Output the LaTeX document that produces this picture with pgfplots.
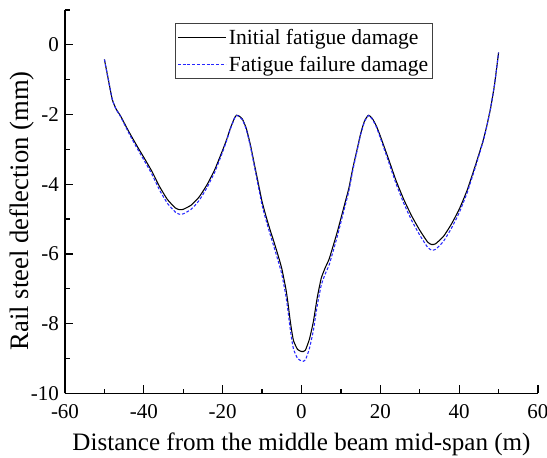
\documentclass[border=0pt]{standalone}
\usepackage{fontspec}
\setmainfont{Liberation Serif}
\usepackage{pgfplots}
\pgfplotsset{compat=1.18}

% x (m), initial fatigue damage (mm), fatigue failure damage (mm)
\pgfplotstableread{
x      init    fail
-50    -0.42   -0.42
-49    -1.00   -1.00
-48    -1.57   -1.57
-47    -1.85   -1.86
-46    -2.02   -2.04
-44    -2.45   -2.49
-42    -2.85   -2.91
-40    -3.23   -3.30
-38    -3.62   -3.70
-36    -4.07   -4.17
-34    -4.44   -4.55
-32    -4.68   -4.80
-31    -4.73   -4.86
-30    -4.72   -4.85
-28    -4.60   -4.72
-26    -4.37   -4.47
-24    -4.02   -4.10
-22    -3.58   -3.65
-20    -3.02   -3.07
-19    -2.72   -2.75
-18    -2.38   -2.40
-17    -2.10   -2.11
-16.5  -2.02   -2.03
-16    -2.03   -2.04
-15    -2.13   -2.15
-14    -2.40   -2.43
-13    -2.85   -2.90
-12    -3.40   -3.46
-11    -3.95   -4.03
-10    -4.50   -4.60
-9     -4.92   -5.03
-8     -5.30   -5.42
-7     -5.65   -5.79
-6     -6.02   -6.17
-5     -6.42   -6.58
-4     -6.98   -7.18
-3.5   -7.35   -7.57
-3     -7.80   -8.03
-2.5   -8.20   -8.44
-2     -8.50   -8.74
-1     -8.74   -9.00
0      -8.80   -9.07
0.5    -8.80   -9.08
1      -8.76   -9.04
2      -8.45   -8.72
3      -7.95   -8.20
4      -7.25   -7.48
5      -6.70   -6.90
6      -6.40   -6.58
7      -6.15   -6.32
8      -5.78   -5.93
9      -5.40   -5.53
10     -4.98   -5.09
11     -4.55   -4.65
12     -4.12   -4.20
13     -3.55   -3.61
14     -3.05   -3.09
15     -2.55   -2.58
16     -2.18   -2.20
17     -2.02   -2.03
18     -2.12   -2.14
19     -2.33   -2.36
20     -2.62   -2.67
22     -3.25   -3.32
24     -3.90   -3.99
26     -4.45   -4.56
28     -4.92   -5.05
30     -5.32   -5.46
32     -5.66   -5.81
33     -5.73   -5.89
34     -5.71   -5.87
36     -5.50   -5.64
38     -5.15   -5.27
40     -4.72   -4.82
42     -4.18   -4.25
44     -3.50   -3.55
46     -2.78   -2.80
47     -2.33   -2.34
48     -1.80   -1.80
49     -1.12   -1.12
50     -0.22   -0.22
}\deflection

\begin{document}
\begin{tikzpicture}
\begin{axis}[
  width=354.75pt, height=287.5pt, scale only axis,
  xmin=-60, xmax=60, ymin=-10, ymax=1,
  axis x line*=bottom, axis y line*=left,
  axis line style={black, line width=1pt},
  xtick={-60,-40,...,60}, ytick={-10,-8,...,0},
  minor x tick num=1, minor y tick num=1,
  extra y ticks={1}, extra y tick labels={},
  extra y tick style={major tick length=3.5pt},
  tick align=inside,
  major tick length=6pt, minor tick length=3.5pt,
  every tick/.style={black, line width=0.9pt},
  /pgf/number format/assume math mode=true,
  ticklabel style={font=\fontsize{15.75}{16}\selectfont},
  xticklabel style={yshift=-4.5pt},
  yticklabel style={xshift=-1pt},
  xlabel={Distance from the middle beam mid-span (m)},
  ylabel={Rail steel deflection (mm)},
  xlabel style={font=\fontsize{18.8}{19}\selectfont,
    at={(rel axis cs:0.5,0)}, anchor=center, yshift=-38.5pt},
  ylabel style={font=\fontsize{20}{20}\selectfont,
    at={(rel axis cs:0,0.476)}, anchor=center, rotate=0, yshift=32pt},
  legend cell align=left,
  legend style={at={(rel axis cs:0.2334,0.965)}, anchor=north west,
    draw=black!75, line width=0.8pt,
    font=\fontsize{16.2}{16.2}\selectfont,
    inner xsep=1pt, inner ysep=2.5pt, row sep=4pt,
    nodes={inner xsep=2pt, inner ysep=1.5pt}},
  legend image code/.code={\draw[#1] (0pt,0pt) -- (36pt,0pt);},
]
\addplot[black, line width=0.8pt, smooth, tension=0.3] table[x=x, y=init] {\deflection};
\addlegendentry{Initial fatigue damage}
\addplot[blue!85!white, line width=0.8pt, smooth, tension=0.3, dash pattern=on 2.2pt off 1.4pt] table[x=x, y=fail] {\deflection};
\addlegendentry{Fatigue failure damage}
\coordinate (sw) at (rel axis cs:0,0);
\coordinate (ne) at (rel axis cs:1,1);
\end{axis}
\pgfresetboundingbox
\path[use as bounding box] ([shift={(-48.75pt,-47.8pt)}]sw) rectangle ([shift={(6.75pt,7.5pt)}]ne);
\end{tikzpicture}
\end{document}
